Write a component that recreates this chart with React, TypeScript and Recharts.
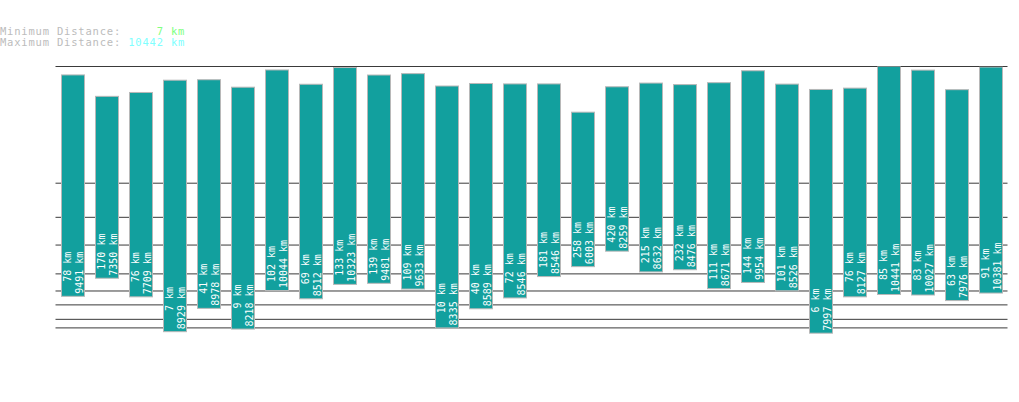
import React from "react";
import { BarChart, Bar, XAxis, YAxis, CartesianGrid } from "recharts";

const categories = ["1","2","3","4","5","6","7","8","9","10","11","12","13","14","15","16","17","18","19","20","21","22","23","24","25","26","27","28"];
const minKm = [78,170,76,7,41,9,102,69,133,139,109,10,40,72,181,258,420,215,232,111,144,101,6,76,85,83,63,91];
const maxKm = [9491,7350,7709,8929,8978,8218,10044,8512,10323,9481,9633,8335,8589,8546,8546,6003,8259,8632,8476,8671,9954,8526,7997,8127,10441,10027,7976,10381];
const gridKm = [10, 20, 50, 100, 200, 500, 1000, 2000];
const overallMin = 7;
const overallMax = 10442;

const EXP = 0.3;
const f = (v: number) => Math.pow(v, EXP);

const data = categories.map((c, i) => ({ name: c, min: minKm[i], max: maxKm[i] }));

const MONO = "'DejaVu Sans Mono', 'Liberation Mono', monospace";

const pad = (s: string, n: number) => (s.length >= n ? s : " ".repeat(n - s.length) + s);

const BarShape = (props: any) => {
  const { x, y, width, height, payload } = props;
  const top = Math.min(y, y + height);
  const h = Math.abs(height);
  const bottom = top + h;
  const ty = bottom - 2.5;
  const t1x = x + 10;
  const t2x = x + 22;
  const minLabel = pad(`${payload.min} km`, 7);
  const maxLabel = pad(`${payload.max} km`, 7);
  return (
    <g>
      <rect x={x} y={top} width={width} height={h} fill="#12a09e" stroke="#b8b8b8" strokeWidth={1} />
      <text x={t1x} y={ty} transform={`rotate(-90 ${t1x} ${ty})`} fill="#ffffff" fontSize={10} fontFamily={MONO} xmlSpace="preserve" style={{ whiteSpace: "pre" }}>
        {minLabel}
      </text>
      <text x={t2x} y={ty} transform={`rotate(-90 ${t2x} ${ty})`} fill="#ffffff" fontSize={10} fontFamily={MONO} xmlSpace="preserve" style={{ whiteSpace: "pre" }}>
        {maxLabel}
      </text>
    </g>
  );
};

export default function App() {
  const gridValues = [...gridKm, overallMax].map(f);
  return (
    <div style={{ position: "absolute", left: 0, top: 0, width: 1019, height: 402, background: "#fff" }}>
      <svg width={400} height={55} style={{ position: "absolute", left: 0, top: 0 }}>
        <text x={0} y={34.5} fontSize={10.5} letterSpacing={0.8} fontFamily={MONO} xmlSpace="preserve" style={{ whiteSpace: "pre" }}>
          <tspan fill="#bcbcbc">Minimum Distance: </tspan>
          <tspan fill="#80ff80">{pad(String(overallMin), 5)} km</tspan>
        </text>
        <text x={0} y={46} fontSize={10.5} letterSpacing={0.8} fontFamily={MONO} xmlSpace="preserve" style={{ whiteSpace: "pre" }}>
          <tspan fill="#bcbcbc">Maximum Distance: </tspan>
          <tspan fill="#80ffff">{pad(String(overallMax), 5)} km</tspan>
        </text>
      </svg>
      <BarChart
        width={1019}
        height={402}
        data={data}
        margin={{ top: 66.5, right: 11.5, bottom: 37, left: 55.5 }}
        barCategoryGap={0}
        style={{ position: "absolute", left: 0, top: 0 }}
      >
        <CartesianGrid horizontal={true} vertical={false} syncWithTicks stroke="#3a3a3a" strokeWidth={1} />
        <XAxis dataKey="name" hide />
        <YAxis hide type="number" domain={[0, f(overallMax)]} ticks={gridValues} interval={0} allowDataOverflow />
        <Bar
          dataKey={(d: any) => [f(d.min), f(d.max)]}
          barSize={23}
          isAnimationActive={false}
          shape={BarShape}
        />
      </BarChart>
    </div>
  );
}
